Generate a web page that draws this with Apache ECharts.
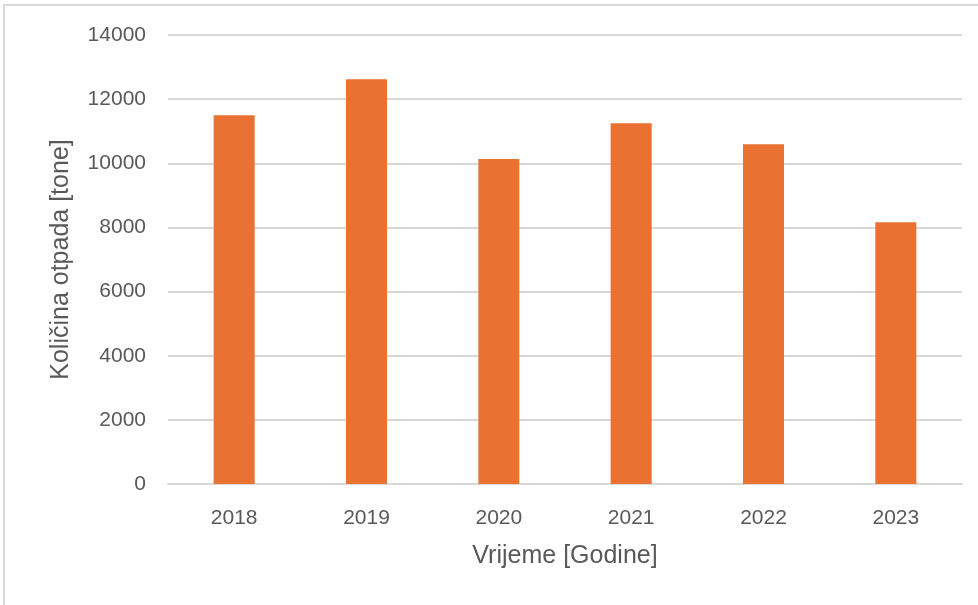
<!DOCTYPE html>
<html><head><meta charset="utf-8">
<script src="https://cdn.jsdelivr.net/npm/echarts@6/dist/echarts.min.js"></script>
<style>html,body{margin:0;padding:0;background:#fff}#c{width:978px;height:605px}</style>
</head><body><div id="c"></div>
<script>
const categories = ['2018','2019','2020','2021','2022','2023'];
const values = [11500, 12620, 10130, 11250, 10590, 8165];
const yTicks = {min: 0, max: 14000, interval: 2000};
const xName = 'Vrijeme [Godine]';
const yName = 'Količina otpada [tone]';

const chart = echarts.init(document.getElementById('c'), null, {renderer: 'canvas'});
const font = 'Liberation Sans';
chart.setOption({
  animation: false,
  backgroundColor: '#fff',
  graphic: [{type: 'rect', shape: {x: 4, y: 5, width: 1000, height: 700}, style: {fill: 'none', stroke: '#d9d9d9', lineWidth: 2}, silent: true}],
  grid: {left: 168, right: 16, top: 35, bottom: 121},
  xAxis: {
    type: 'category', data: categories,
    name: xName, nameLocation: 'middle', nameGap: 60,
    nameTextStyle: {fontFamily: font, fontSize: 25, color: '#595959'},
    axisLine: {lineStyle: {color: '#d9d9d9', width: 2}},
    axisTick: {show: false},
    axisLabel: {fontFamily: font, fontSize: 21, color: '#595959', margin: 24}
  },
  yAxis: {
    type: 'value', min: yTicks.min, max: yTicks.max, interval: yTicks.interval,
    name: yName, nameLocation: 'middle', nameGap: 94,
    nameTextStyle: {fontFamily: font, fontSize: 25, color: '#595959'},
    axisLine: {show: false}, axisTick: {show: false},
    axisLabel: {fontFamily: font, fontSize: 21, color: '#595959', margin: 22, formatter: v => String(v)},
    splitLine: {lineStyle: {color: '#d9d9d9', width: 2}}
  },
  series: [{type: 'bar', data: values, barWidth: '31%', itemStyle: {color: '#E97132'}}]
});
</script></body></html>
